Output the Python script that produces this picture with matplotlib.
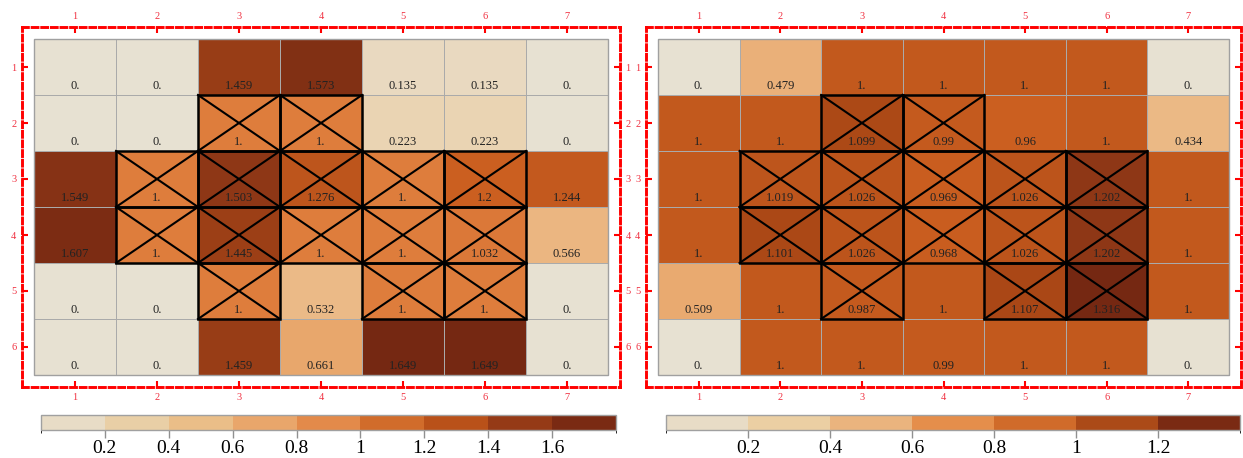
import numpy as np
import matplotlib
matplotlib.use("Agg")
import matplotlib.pyplot as plt
from matplotlib.colors import LinearSegmentedColormap, ListedColormap, BoundaryNorm, Normalize
from matplotlib.patches import Rectangle
import matplotlib.cm as cm

plt.rcParams['font.family'] = ['Liberation Serif', 'DejaVu Serif']

# cell values, rows 1..6 top to bottom, columns 1..7
left_values = np.array([
    [0, 0, 1.459, 1.573, 0.135, 0.135, 0],
    [0, 0, 1, 1, 0.223, 0.223, 0],
    [1.549, 1, 1.503, 1.276, 1, 1.2, 1.244],
    [1.607, 1, 1.445, 1, 1, 1.032, 0.566],
    [0, 0, 1, 0.532, 1, 1, 0],
    [0, 0, 1.459, 0.661, 1.649, 1.649, 0],
])
right_values = np.array([
    [0, 0.479, 1, 1, 1, 1, 0],
    [1, 1, 1.099, 0.99, 0.96, 1, 0.434],
    [1, 1.019, 1.026, 0.969, 1.026, 1.202, 1],
    [1, 1.101, 1.026, 0.968, 1.026, 1.202, 1],
    [0.509, 1, 0.987, 1, 1.107, 1.316, 1],
    [0, 1, 1, 0.99, 1, 1, 0],
])
# crossed-out cells (row, col), 1-based
crossed = [(2, 3), (2, 4),
           (3, 2), (3, 3), (3, 4), (3, 5), (3, 6),
           (4, 2), (4, 3), (4, 4), (4, 5), (4, 6),
           (5, 3), (5, 5), (5, 6)]
col_labels = ['1', '2', '3', '4', '5', '6', '7']
row_labels = ['1', '2', '3', '4', '5', '6']
left_bounds = [0, 0.2, 0.4, 0.6, 0.8, 1.0, 1.2, 1.4, 1.6, 1.8]
right_bounds = [0, 0.2, 0.4, 0.6, 0.8, 1.0, 1.2, 1.4]
left_ticks = [0.2, 0.4, 0.6, 0.8, 1.0, 1.2, 1.4, 1.6]
right_ticks = [0.2, 0.4, 0.6, 0.8, 1.0, 1.2]

cell_cmap = LinearSegmentedColormap.from_list("cells", [
    (0.0, '#E7E1D2'), (0.13, '#EAD4B4'), (0.33, '#EBB985'), (0.40, '#E8A76C'),
    (0.60, '#DF7F3E'), (0.73, '#CB5F20'), (0.84, '#AB4816'), (0.91, '#8F3816'),
    (1.0, '#752812')])
left_bar_colors = ['#E8DCC6', '#E9CFA6', '#EABE88', '#E9A66B', '#E38A4A',
                   '#D16C2B', '#B95119', '#953A16', '#7A2A13']
right_bar_colors = ['#E8DCC6', '#EBCFA3', '#EAB47E', '#E58E4B', '#D06B2A',
                    '#AB4A18', '#7A2A13']

W, H = 1243, 458
fig = plt.figure(figsize=(W / 100, H / 100), dpi=100)


def rect(x0, y0, x1, y1):
    return [x0 / W, 1 - y1 / H, (x1 - x0) / W, (y1 - y0) / H]


def fmt(v):
    if float(v).is_integer():
        return f"{int(v)}."
    return f"{v:g}"


def draw_panel(box, values, right_labels=True):
    ax = fig.add_axes(rect(*box))
    nr, nc = values.shape
    mx, my = 12 / 82, 12 / 56
    ax.pcolormesh(np.arange(nc + 1), np.arange(nr + 1), values, cmap=cell_cmap,
                  norm=Normalize(0, values.max()), edgecolors='#aaaaaa', linewidth=0.7)
    ax.add_patch(Rectangle((0, 0), nc, nr, fill=False, ec='#a0a0a0', lw=1.0))
    for r, c in crossed:
        x, y = c - 1, r - 1
        ax.add_patch(Rectangle((x, y), 1, 1, fill=False, ec='black', lw=1.8, zorder=3))
        ax.plot([x, x + 1], [y, y + 1], color='black', lw=1.5, zorder=3)
        ax.plot([x, x + 1], [y + 1, y], color='black', lw=1.5, zorder=3)
    for r in range(nr):
        for c in range(nc):
            ax.text(c + 0.5, r + 0.84, fmt(values[r, c]), ha='center', va='center',
                    fontsize=9, color='#222222', zorder=4)
    ax.set_xlim(-mx, nc + mx)
    ax.set_ylim(nr + my, -my)
    ax.set_xticks(np.arange(nc) + 0.5, col_labels)
    ax.set_yticks(np.arange(nr) + 0.5, row_labels)
    ax.tick_params(direction='in', length=4, width=1.5, color='red', labelcolor='#f03040',
                   labelsize=7.5, pad=4, top=True, bottom=True, left=True, right=True,
                   labeltop=True, labelbottom=True, labelleft=True, labelright=right_labels)
    for s in ax.spines.values():
        s.set_color('red')
        s.set_linewidth(2.1)
        s.set_linestyle((0, (2, 1.3)))


def draw_bar(box, bounds, colors, ticks):
    cax = fig.add_axes(rect(*box))
    sm = cm.ScalarMappable(norm=BoundaryNorm(bounds, len(colors)), cmap=ListedColormap(colors))
    cb = fig.colorbar(sm, cax=cax, orientation='horizontal')
    cb.set_ticks(ticks, labels=[f"{t:g}" for t in ticks])
    cb.outline.set_edgecolor('#a0a0a0')
    cb.outline.set_linewidth(1)
    cax.tick_params(length=6, width=1, color='#909090', labelsize=14, pad=1.5)


draw_panel((22, 27, 620, 387), left_values)
draw_panel((646, 27, 1241, 387), right_values, right_labels=False)
draw_bar((41, 415, 616, 430), left_bounds, left_bar_colors, left_ticks)
draw_bar((666, 415, 1240, 430), right_bounds, right_bar_colors, right_ticks)

fig.savefig("out.png", dpi=100)
